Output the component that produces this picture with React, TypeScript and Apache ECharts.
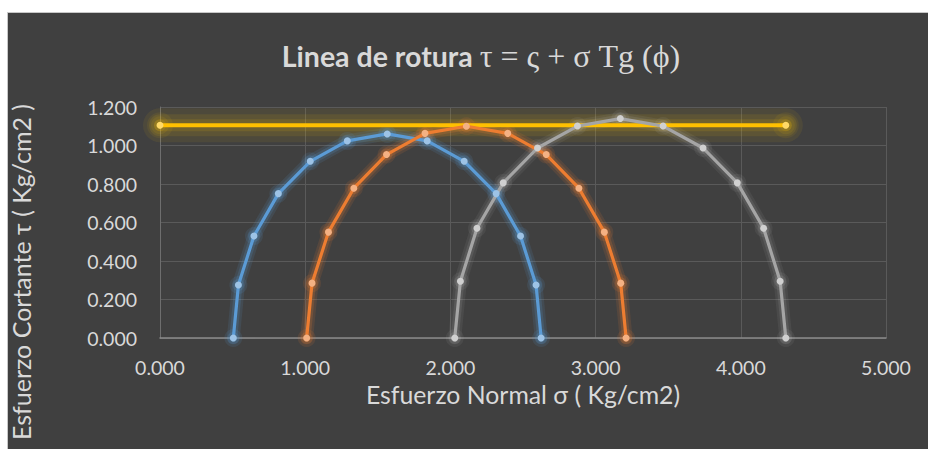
import React, { useEffect, useRef } from "react";
import * as echarts from "echarts";

// Mohr circles: [sigma, tau]
const circle1X = [0.505, 0.54, 0.647, 0.815, 1.035, 1.29, 1.565, 1.84, 2.095, 2.315, 2.483, 2.59, 2.625];
const circle1Y = [0.0, 0.275, 0.53, 0.75, 0.918, 1.024, 1.06, 1.024, 0.918, 0.75, 0.53, 0.275, 0.0];

const circle2X = [1.01, 1.047, 1.16, 1.335, 1.56, 1.825, 2.11, 2.395, 2.66, 2.885, 3.06, 3.173, 3.21];
const circle2Y = [0.0, 0.285, 0.55, 0.778, 0.953, 1.063, 1.1, 1.063, 0.953, 0.778, 0.55, 0.285, 0.0];

const circle3X = [2.03, 2.069, 2.183, 2.364, 2.6, 2.875, 3.17, 3.465, 3.74, 3.976, 4.157, 4.271, 4.31];
const circle3Y = [0.0, 0.295, 0.57, 0.806, 0.987, 1.101, 1.14, 1.101, 0.987, 0.806, 0.57, 0.295, 0.0];

const ruptureX = [0.0, 4.31];
const ruptureY = [1.105, 1.105];

const xTicks = { min: 0, max: 5, interval: 1 };
const yTicks = { min: 0, max: 1.2, interval: 0.2 };

const titleMain = "Linea de rotura ";
const titleFormula = "τ = ς + σ Tg (ϕ)";
const xName = "Esfuerzo Normal σ ( Kg/cm2)";
const yName = "Esfuerzo Cortante τ ( Kg/cm2 )";

const pairs = (xs: number[], ys: number[]) => xs.map((x, i) => [x, ys[i]]);

const FONT = "Lato, 'Noto Sans', sans-serif";

function glowSeries(xs: number[], ys: number[], glow: string, width: number, sym: number) {
  return {
    type: "line",
    data: pairs(xs, ys),
    smooth: false,
    symbol: "circle",
    symbolSize: sym,
    silent: true,
    lineStyle: { color: glow, width, cap: "round", join: "round" },
    itemStyle: { color: glow, borderWidth: 0 },
    emphasis: { disabled: true },
    z: 1,
  };
}

function mkSeries(name: string, xs: number[], ys: number[], line: string, marker: string, width: number) {
  return {
    name,
    type: "line",
    data: pairs(xs, ys),
    smooth: false,
    symbol: "circle",
    symbolSize: 7,
    lineStyle: { color: line, width },
    itemStyle: { color: marker, borderWidth: 0 },
    emphasis: { disabled: true },
    z: 3,
  };
}

export default function App() {
  const ref = useRef<HTMLDivElement>(null);
  useEffect(() => {
    if (!ref.current) return;
    const chart = echarts.init(ref.current, undefined, { renderer: "svg" });
    chart.setOption({
      animation: false,
      backgroundColor: "transparent",
      graphic: [
        {
          type: "rect",
          z: -10,
          silent: true,
          shape: { x: 7.5, y: 12.5, width: 940, height: 450 },
          style: { fill: "#404040", stroke: "#c8c8c8", lineWidth: 1 },
        },
        {
          type: "text",
          x: 21,
          y: 272,
          rotation: Math.PI / 2,
          style: {
            text: yName,
            fill: "#d9d9d9",
            font: `25px ${FONT}`,
            textAlign: "center",
            textVerticalAlign: "middle",
          },
        },
      ],
      title: {
        text: `{a|${titleMain}}{b|${titleFormula}}`,
        left: 476,
        top: 35,
        textAlign: "center",
        textStyle: {
          rich: {
            a: { fontFamily: FONT, fontWeight: "bold", fontSize: 28.5, color: "#d9d9d9" },
            b: { fontFamily: "'Liberation Serif', 'DejaVu Serif', serif", fontWeight: "normal", fontSize: 32, color: "#d9d9d9" },
          },
        },
      },
      grid: { left: 160, right: 42, top: 107, bottom: 111, containLabel: false },
      xAxis: {
        type: "value",
        min: xTicks.min,
        max: xTicks.max,
        interval: xTicks.interval,
        name: xName,
        nameLocation: "middle",
        nameGap: 33,
        nameTextStyle: { color: "#d9d9d9", fontFamily: FONT, fontSize: 24.8 },
        axisLine: { show: true, lineStyle: { color: "#8a8a8a", width: 1.5 } },
        axisTick: { show: false },
        axisLabel: {
          color: "#d9d9d9",
          fontFamily: FONT,
          fontSize: 19.5,
          margin: 19,
          formatter: (v: number) => v.toFixed(3),
        },
        splitLine: { show: true, lineStyle: { color: "#5a5a5a", width: 1 } },
      },
      yAxis: {
        type: "value",
        min: yTicks.min,
        max: yTicks.max,
        interval: yTicks.interval,
        axisLine: { show: true, lineStyle: { color: "#6e6e6e", width: 1 } },
        axisTick: { show: false },
        axisLabel: {
          color: "#d9d9d9",
          fontFamily: FONT,
          fontSize: 19.5,
          margin: 23,
          formatter: (v: number) => v.toFixed(3),
        },
        splitLine: { show: true, lineStyle: { color: "#5a5a5a", width: 1 } },
      },
      series: [
        glowSeries(ruptureX, ruptureY, "rgba(255,200,0,0.07)", 34, 26),
        glowSeries(ruptureX, ruptureY, "rgba(255,200,0,0.09)", 22, 18),
        glowSeries(ruptureX, ruptureY, "rgba(255,200,0,0.12)", 12, 12),
        glowSeries(circle1X, circle1Y, "rgba(91,155,213,0.12)", 13, 18),
        glowSeries(circle1X, circle1Y, "rgba(91,155,213,0.18)", 8, 12),
        glowSeries(circle2X, circle2Y, "rgba(237,125,49,0.12)", 13, 18),
        glowSeries(circle2X, circle2Y, "rgba(237,125,49,0.18)", 8, 12),
        glowSeries(circle3X, circle3Y, "rgba(215,215,215,0.07)", 13, 18),
        glowSeries(circle3X, circle3Y, "rgba(215,215,215,0.1)", 8, 12),
        mkSeries("Rotura", ruptureX, ruptureY, "#ffc000", "#ffd966", 4),
        mkSeries("Círculo 1", circle1X, circle1Y, "#5b9bd5", "#9dc3e6", 3.2),
        mkSeries("Círculo 2", circle2X, circle2Y, "#ed7d31", "#f4b183", 3.2),
        mkSeries("Círculo 3", circle3X, circle3Y, "#a5a5a5", "#d0d0d0", 3.2),
      ],
    });
    return () => chart.dispose();
  }, []);
  return (
    <div style={{ position: "fixed", left: 0, top: 0, width: 928, height: 449, background: "#ffffff" }}>
      <div ref={ref} style={{ width: 928, height: 449 }} />
    </div>
  );
}
